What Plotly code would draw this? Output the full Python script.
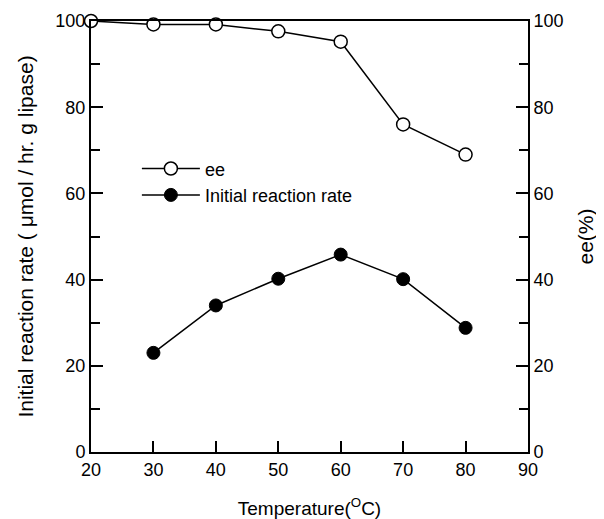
import plotly.graph_objects as go

temps_ee = [20, 30, 40, 50, 60, 70, 80]
ee_values = [100, 99.2, 99.2, 97.6, 95.2, 76, 69]
temps_rate = [30, 40, 50, 60, 70, 80]
rate_values = [23, 34, 40.2, 45.8, 40.1, 28.8]
x_ticks = [20, 30, 40, 50, 60, 70, 80, 90]
y_ticks = [0, 20, 40, 60, 80, 100]

FONT = "Liberation Sans, Arial, sans-serif"

fig = go.Figure()
fig.add_trace(go.Scatter(
    x=temps_ee, y=ee_values, name="ee", mode="lines+markers",
    line=dict(color="black", width=1.5),
    marker=dict(symbol="circle", size=13, color="white", line=dict(color="black", width=1.5)),
    cliponaxis=False,
))
fig.add_trace(go.Scatter(
    x=temps_rate, y=rate_values, name="Initial reaction rate", mode="lines+markers",
    line=dict(color="black", width=1.5),
    marker=dict(symbol="circle", size=13, color="black", line=dict(color="black", width=1)),
    cliponaxis=False,
))
# invisible trace to activate right axis
fig.add_trace(go.Scatter(x=[20], y=[0], yaxis="y2", showlegend=False,
                         mode="markers", marker=dict(opacity=0), hoverinfo="skip"))

fig.update_layout(
    width=604, height=519,
    margin=dict(l=83, r=84, t=13, b=75, autoexpand=False),
    paper_bgcolor="white", plot_bgcolor="white",
    font=dict(family=FONT, size=18, color="black"),
    showlegend=True,
    legend=dict(x=0.105, y=0.70, xanchor="left", yanchor="top",
                bgcolor="rgba(0,0,0,0)", font=dict(size=18), itemwidth=58,
                tracegroupgap=0),
    xaxis=dict(range=[20, 90], tickvals=x_ticks, ticks="inside", ticklen=11,
               tickwidth=1.5, tickcolor="black", showline=True, linewidth=2,
               linecolor="black", mirror=True, showgrid=False, zeroline=False,
               automargin=False, tickfont=dict(size=18),
               title=dict(text="Temperature(<sup>O</sup>C)", font=dict(size=19), standoff=23)),
    yaxis=dict(range=[0, 100], tickvals=y_ticks, ticks="inside", ticklen=12,
               tickwidth=1.5, tickcolor="black", showline=True, linewidth=2,
               linecolor="black", showgrid=False, zeroline=False, automargin=False,
               minor=dict(dtick=10, ticks="inside", ticklen=9, tickwidth=1.5, tickcolor="black"),
               tickfont=dict(size=18),
               title=dict(text="Initial reaction rate ( μmol / hr. g lipase)", font=dict(size=21), standoff=16)),
    yaxis2=dict(range=[0, 100], tickvals=y_ticks, overlaying="y", side="right",
                ticks="inside", ticklen=12, tickwidth=1.5, tickcolor="black",
                showline=True, linewidth=2, linecolor="black", showgrid=False,
                zeroline=False, automargin=False,
                minor=dict(dtick=10, ticks="inside", ticklen=9, tickwidth=1.5, tickcolor="black"),
                tickfont=dict(size=18),
                title=dict(text="ee(%)", font=dict(size=21), standoff=16)),
)

fig.write_html("out.html")
